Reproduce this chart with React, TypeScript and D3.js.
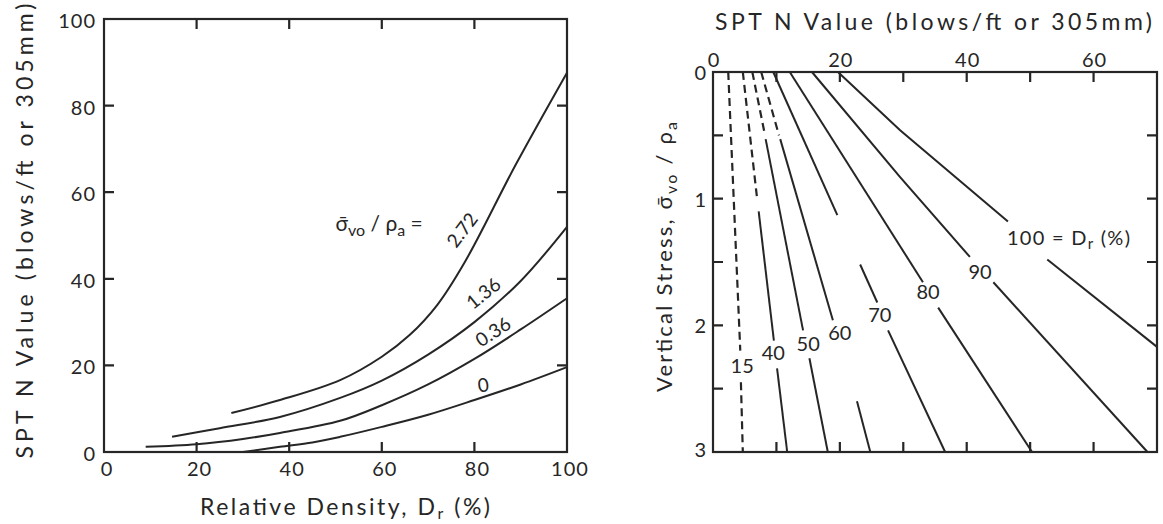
import React from 'react';
import * as d3 from 'd3';

// ---- left panel: SPT N vs relative density, one curve per effective stress ----
const densityTicks = [0, 20, 40, 60, 80, 100];
const blowTicks = [0, 20, 40, 60, 80, 100];

// [Dr %, N]
const stress0 = [[30, 0], [38, 1.2], [45, 2.2], [51, 3.5], [60, 5.8], [70, 8.6], [80, 12], [90, 15.6], [100, 19.6]];
const stress036 = [[9, 1.2], [20, 1.8], [30, 3], [38, 4.4], [51, 7.2], [60, 10.8], [70, 15.6], [80, 21.5], [90, 28.3], [100, 35.5]];
const stress136 = [[14.7, 3.5], [25, 5.5], [38, 8.1], [51, 12.5], [60, 16.5], [70, 22.5], [80, 30], [90, 39.5], [100, 52]];
const stress272 = [[27.5, 9], [38, 12], [51, 16.6], [60, 22], [66, 27], [72, 34], [78, 44], [89, 66.5], [100, 87.6]];
const stressCurves = [stress0, stress036, stress136, stress272];
const stressNames = ['0', '0.36', '1.36', '2.72'];

// ---- right panel: vertical stress vs SPT N, one line per relative density ----
const blowTopTicks = [0, 20, 40, 60];
const blowMinorTicks = [10, 20, 30, 40, 50, 60];
const stressTicks = [0, 1, 2, 3];
const stressMinorTicks = [0.5, 1, 1.5, 2, 2.5];

// [sigma/pa, N] pieces of each Dr line (gaps where labels sit)
const dashed15 = [[[0, 2.4], [2.2, 4.3]], [[2.45, 4.4], [3, 4.7]]];
const dashed40 = [[[0, 4.7], [1.02, 7.0]]];
const solid40 = [[[1.1, 7.2], [2.12, 9.6]], [[2.34, 10.1], [3, 11.7]]];
const dashed50 = [[[0, 6.2], [0.5, 8.2]]];
const solid50 = [[[0.53, 8.3], [2.04, 14.2]], [[2.26, 15.2], [3, 18.1]]];
const dashed60 = [[[0, 7.6], [0.5, 10.4]]];
const solid60 = [[[0.53, 10.6], [1.96, 18.9]], [[2.6, 22.7], [3, 24.8]]];
const solid70 = [[[0, 9.5], [1.13, 19.6]], [[1.52, 23.2], [1.82, 25.9]], [[2.04, 27.6], [3, 36.6]]];
const solid80 = [[[0, 12.1], [1.66, 33.1]], [[1.86, 35.5], [3, 50.3]]];
const solid90 = [[[0, 15.6], [0.83, 29.5], [1.46, 40.5]], [[1.66, 44.2], [3, 68.5]]];
const solid100 = [[[0, 19.7], [0.46, 29.5], [1.18, 46.5]], [[1.48, 52.7], [2.17, 70]]];
const dashedPieces = [...dashed15, ...dashed40, ...dashed50, ...dashed60];
const solidPieces = [...solid40, ...solid50, ...solid60, ...solid70, ...solid80, ...solid90, ...solid100];
const densityNames = ['15', '40', '50', '60', '70', '80', '90'];

const ink = '#262626';
const font = 'Lato, "DejaVu Sans", sans-serif';

// inward ticks on all four sides of a panel
const tickPath = (x: d3.ScaleLinear<number, number>, y: d3.ScaleLinear<number, number>,
    xt: number[], yt: number[], len: number) => {
    const [x0, x1] = x.range();
    const [y0, y1] = y.range();
    const top = Math.min(y0, y1), bot = Math.max(y0, y1);
    const p = d3.path();
    yt.forEach(v => {
        p.moveTo(x0, y(v)); p.lineTo(x0 + len, y(v));
        p.moveTo(x1, y(v)); p.lineTo(x1 - len, y(v));
    });
    xt.forEach(v => {
        p.moveTo(x(v), top); p.lineTo(x(v), top + len);
        p.moveTo(x(v), bot); p.lineTo(x(v), bot - len);
    });
    return p.toString();
};

const App = () => {
    // left panel scales
    const xL = d3.scaleLinear().domain([0, 100]).range([104, 567]);
    const yL = d3.scaleLinear().domain([0, 100]).range([452, 19]);
    const curve = d3.line<number[]>()
        .x(d => xL(d[0]))
        .y(d => yL(d[1]))
        .curve(d3.curveCatmullRom.alpha(0.5));

    // right panel scales
    const xR = d3.scaleLinear().domain([0, 70]).range([713, 1157]);
    const yR = d3.scaleLinear().domain([0, 3]).range([72, 452]);
    const seg = d3.line<number[]>()
        .x(d => xR(d[1]))
        .y(d => yR(d[0]));

    // label anchors in data units (+ rotation for the left panel)
    const stressLabelPos = [[81.9, 15.5, -8], [84, 27.8, -33], [81.9, 36.7, -39], [77.3, 51.3, -53]];
    const densityLabelPos = [[2.32, 4.6], [2.22, 9.5], [2.15, 15], [2.06, 20], [1.92, 26.3], [1.74, 33.9], [1.58, 42.1]];

    const ticksL = tickPath(xL, yL, densityTicks.slice(1, -1), blowTicks.slice(1, -1), 10);
    const ticksR = tickPath(xR, yR, blowMinorTicks, stressMinorTicks, 10);

    return (
        <svg width={1163} height={524} style={{ position: 'absolute', left: 0, top: 0, background: '#fff' }}
            fontFamily={font}>
            {/* ---------- left panel ---------- */}
            <rect x={xL(0)} y={yL(100)} width={xL(100) - xL(0)} height={yL(0) - yL(100)}
                fill="none" stroke={ink} strokeWidth={2.2} />
            <path d={ticksL} fill="none" stroke={ink} strokeWidth={2.2} />
            <g fill={ink}>
                {blowTicks.map(v => (
                    <text key={'lyl' + v} x={xL(0) - 8} y={yL(v) + 9} fontSize={20} textAnchor="end" letterSpacing={1}>{v}</text>
                ))}
                {densityTicks.map(v => (
                    <text key={'lxl' + v} x={xL(v) + 3} y={476} fontSize={20} textAnchor="middle" letterSpacing={1}>{v}</text>
                ))}
                {stressNames.map((s, i) => (
                    <text key={'sn' + s} fontSize={19} textAnchor="middle"
                        transform={`translate(${xL(stressLabelPos[i][0])},${yL(stressLabelPos[i][1])}) rotate(${stressLabelPos[i][2]})`}
                        dy={7}>{s}</text>
                ))}
                <text x={xL(50)} y={yL(52.4) + 6} fontSize={21}>
                    σ̄<tspan fontSize={16} dy={5}>vo</tspan><tspan dy={-5}> / ρ</tspan><tspan fontSize={16} dy={5}>a</tspan><tspan dy={-5}> =</tspan>
                </text>
                <text transform="translate(33,231) rotate(-90)" fontSize={23} textAnchor="middle"
                    textLength={455} lengthAdjust="spacing">SPT  N  Value  (blows/ft  or  305mm)</text>
                <text x={345} y={515} fontSize={23} textAnchor="middle" textLength={290} lengthAdjust="spacing">
                    Relative Density, D<tspan fontSize={16} dy={4}>r</tspan><tspan dy={-4}> (%)</tspan>
                </text>
            </g>
            {stressCurves.map((c, i) => (
                <path key={'c' + i} d={curve(c) || ''} fill="none" stroke={ink} strokeWidth={2} />
            ))}

            {/* ---------- right panel ---------- */}
            <rect x={xR(0)} y={yR(0)} width={xR(70) - xR(0)} height={yR(3) - yR(0)}
                fill="none" stroke={ink} strokeWidth={2.2} />
            <path d={ticksR} fill="none" stroke={ink} strokeWidth={2.2} />
            {dashedPieces.map((p, i) => (
                <path key={'dp' + i} d={seg(p) || ''} fill="none" stroke={ink} strokeWidth={2.2} strokeDasharray="8 5" />
            ))}
            {solidPieces.map((p, i) => (
                <path key={'sp' + i} d={seg(p) || ''} fill="none" stroke={ink} strokeWidth={2} />
            ))}
            <g fill={ink}>
                {blowTopTicks.map(v => (
                    <text key={'rxl' + v} x={xR(v) + 1} y={67} fontSize={20} textAnchor="middle" letterSpacing={1}>{v}</text>
                ))}
                {stressTicks.map(v => (
                    <text key={'ryl' + v} x={706} y={yR(v) + 8 - (v === 3 ? 3 : 0)} fontSize={20} textAnchor="end">{v}</text>
                ))}
                {densityNames.map((s, i) => (
                    <text key={'dn' + s} x={xR(densityLabelPos[i][1])} y={yR(densityLabelPos[i][0]) + 7}
                        fontSize={20} textAnchor="middle">{s}</text>
                ))}
                <text x={1007} y={yR(1.31) + 7} fontSize={20} textLength={123} lengthAdjust="spacing">
                    100 = D<tspan fontSize={15} dy={4}>r</tspan><tspan dy={-4}> (%)</tspan>
                </text>
                <text x={715} y={30} fontSize={23} textLength={437} lengthAdjust="spacing">
                    SPT  N  Value  (blows/ft  or  305mm)
                </text>
                <text transform="translate(672,257) rotate(-90)" fontSize={22} textAnchor="middle"
                    textLength={270} lengthAdjust="spacing">
                    Vertical  Stress,  σ̄<tspan fontSize={16} dy={5}>vo</tspan><tspan dy={-5}> / ρ</tspan><tspan fontSize={16} dy={5}>a</tspan>
                </text>
            </g>
        </svg>
    );
};

export default App;
